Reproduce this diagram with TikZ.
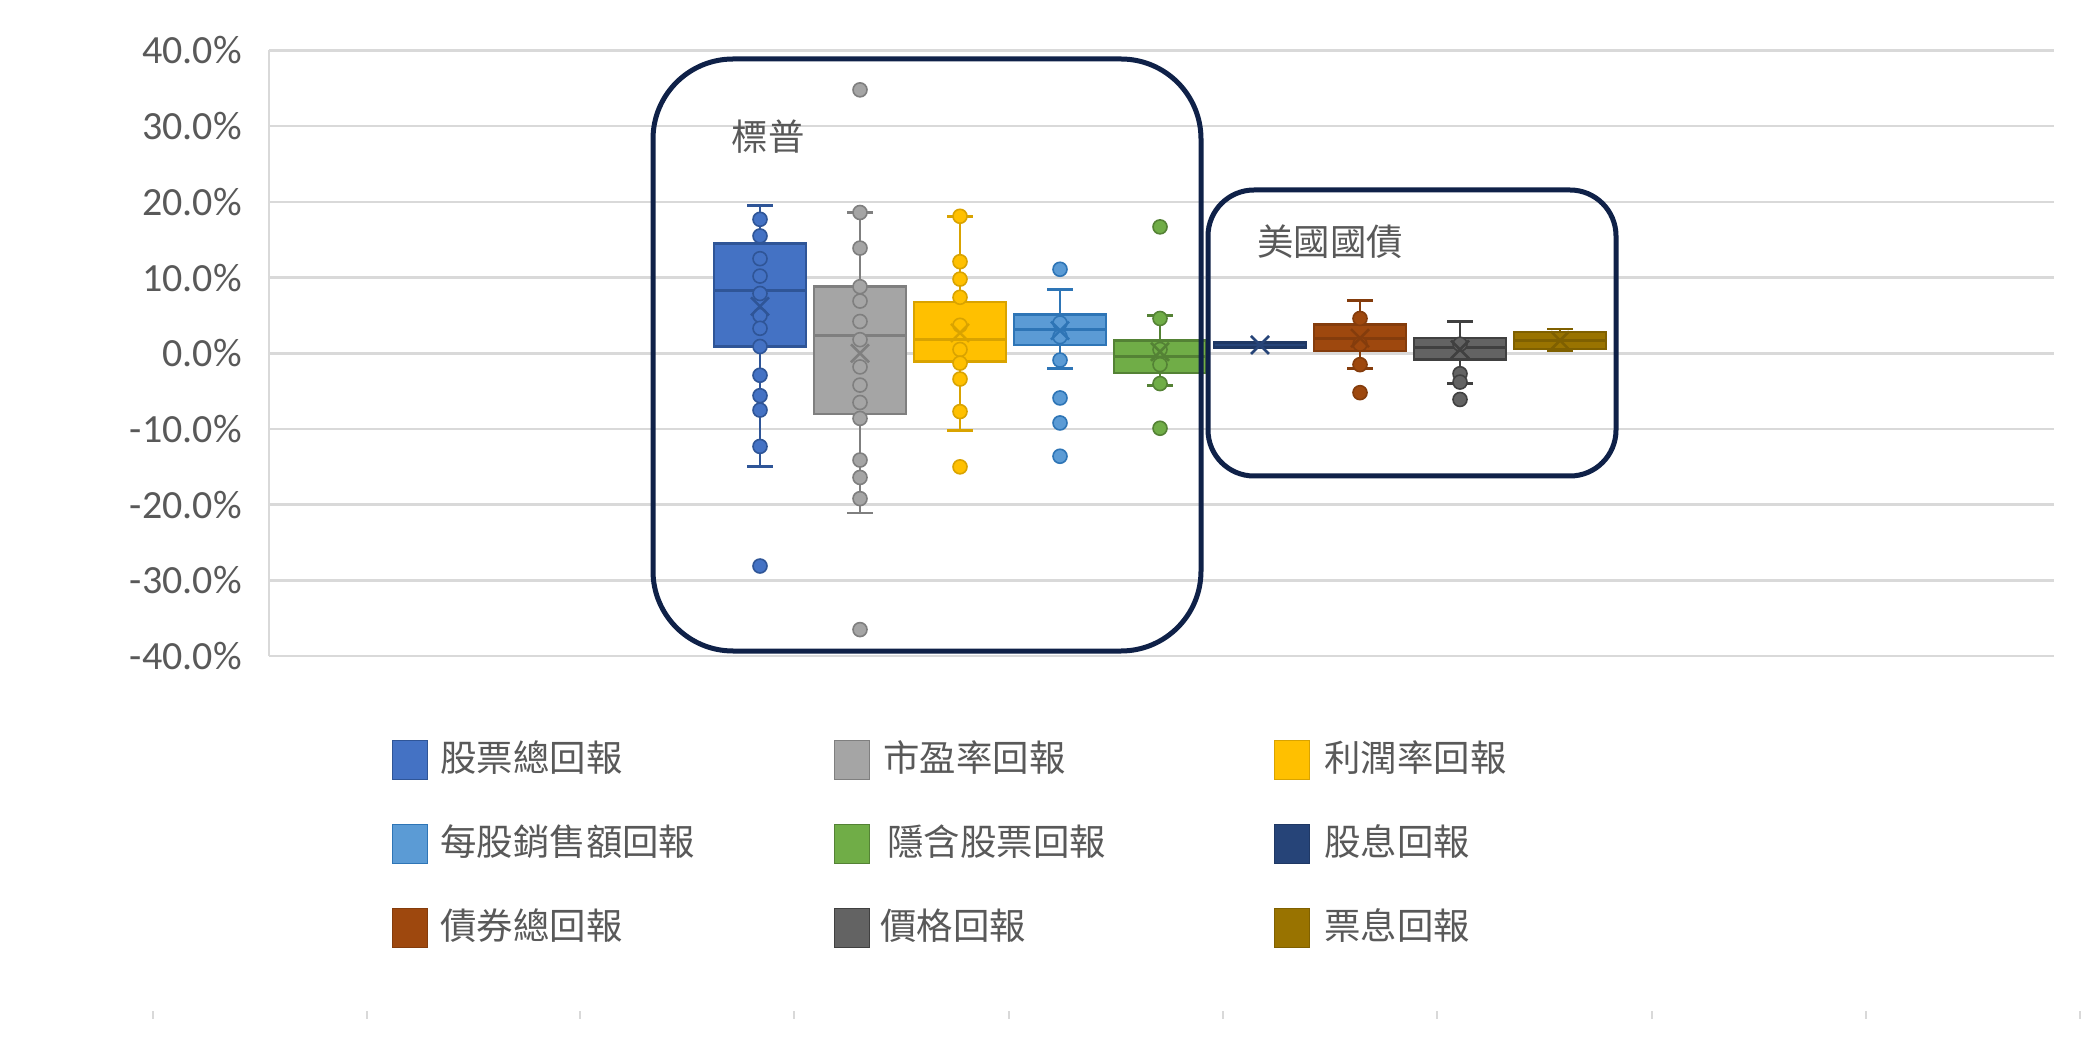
\documentclass[tikz,border=0pt]{standalone}
\usepackage{fontspec}
\setmainfont{Carlito}
\newfontfamily\cjk{Noto Sans CJK TC}
\definecolor{cBlue}{HTML}{4472C4}\definecolor{eBlue}{HTML}{2F5597}
\definecolor{cGray}{HTML}{A5A5A5}\definecolor{eGray}{HTML}{7F7F7F}
\definecolor{cYel}{HTML}{FFC000}\definecolor{eYel}{HTML}{D9A300}
\definecolor{cLBlue}{HTML}{5B9BD5}\definecolor{eLBlue}{HTML}{2E75B6}
\definecolor{cGreen}{HTML}{70AD47}\definecolor{eGreen}{HTML}{548235}
\definecolor{cNavy}{HTML}{264478}\definecolor{eNavy}{HTML}{1F3864}
\definecolor{cBrown}{HTML}{9E480E}\definecolor{eBrown}{HTML}{843C0C}
\definecolor{cDGray}{HTML}{636363}\definecolor{eDGray}{HTML}{404040}
\definecolor{cOlive}{HTML}{997300}\definecolor{eOlive}{HTML}{7F6000}
\definecolor{gridc}{HTML}{D9D9D9}
\definecolor{txtc}{HTML}{595959}
\definecolor{framec}{HTML}{0F2148}
\newcommand{\bxplot}[8]{%
  \draw[whisk, draw=#3] (#1,{Y(#4)}) -- (#1,{Y(#5)}) (#1,{Y(#7)}) -- (#1,{Y(#8)});
  \draw[whisk, draw=#3] (#1-13,{Y(#4)}) -- (#1+13,{Y(#4)}) (#1-13,{Y(#8)}) -- (#1+13,{Y(#8)});
  \filldraw[boxst, fill=#2, draw=#3] (#1-46,{Y(#5)}) rectangle (#1+46,{Y(#7)});
  \draw[whisk, draw=#3] (#1-46,{Y(#6)}) -- (#1+46,{Y(#6)});
}
\newcommand{\bxpts}[4]{%
  \foreach \v in {#4} \filldraw[fill=#2, draw=#3, line width=0.8pt] (#1,{Y(\v)}) circle[radius=3.5pt];
}
\newcommand{\bxmean}[3]{%
  \draw[draw=#2, line width=1.3pt] (#1-9,{Y(#3)-9}) -- (#1+9,{Y(#3)+9}) (#1-9,{Y(#3)+9}) -- (#1+9,{Y(#3)-9});
}
\tikzset{
  whisk/.style={line width=1.4pt},
  boxst/.style={line width=1.2pt},
  gridl/.style={draw=gridc, line width=1.3pt},
  axl/.style={anchor=east, text=txtc, font=\fontsize{20}{22}\selectfont, inner sep=0pt},
  lbl/.style={text=txtc, font=\cjk\fontsize{18.2}{20}\selectfont, inner sep=0pt},
  legtxt/.style={anchor=west, text=txtc, font=\cjk\fontsize{18.2}{20}\selectfont, inner sep=0pt},
  legsq/.style={minimum width=17.5pt, minimum height=19.5pt, inner sep=0pt, line width=0.9pt},
  frame/.style={draw=framec, line width=2.5pt},
  tickl/.style={draw=gridc, line width=0.8pt}
}
\begin{document}
\begin{tikzpicture}[x=0.5pt, y=-0.5pt, declare function={Y(\v)=353.3-7.57*\v;}]
\fill[white] (0,0) rectangle (2082,1047);
\useasboundingbox (0,0) rectangle (2082,1047);
% grid and axis labels
\foreach \g/\t in {40/40.0\%,30/30.0\%,20/20.0\%,10/10.0\%,0/0.0\%,-10/-10.0\%,-20/-20.0\%,-30/-30.0\%,-40/-40.0\%}{
  \draw[gridl] (269,{Y(\g)}) -- (2054,{Y(\g)});
  \node[axl] (ax\g) at (242,{Y(\g)}) {\t};
}
\draw[gridl] (269,{Y(40)}) -- (269,{Y(-40)});
% bottom ticks
\foreach \tx in {153,367,580,794,1009,1223,1437,1652,1866,2080}
  \draw[tickl] (\tx,1011) -- (\tx,1019);
% box plots
\bxplot{760}{cBlue}{eBlue}{-15.0}{0.9}{8.3}{14.5}{19.5}
\bxpts{760}{cBlue}{eBlue}{17.7,15.5,12.5,10.2,7.9,5.0,3.3,0.9,-2.9,-5.6,-7.5,-12.3,-28.1}
\bxmean{760}{eBlue}{6.2}
\bxplot{860}{cGray}{eGray}{-21.1}{-8.0}{2.3}{8.8}{18.6}
\bxpts{860}{cGray}{eGray}{34.8,18.6,13.9,8.8,6.9,4.2,1.8,-1.8,-4.2,-6.5,-8.6,-14.1,-16.4,-19.2,-36.5}
\bxmean{860}{eGray}{0.0}
\bxplot{960}{cYel}{eYel}{-10.2}{-1.1}{1.8}{6.8}{18.1}
\bxpts{960}{cYel}{eYel}{18.1,12.1,9.8,7.4,3.7,0.5,-1.3,-3.4,-7.7,-15.0}
\bxmean{960}{eYel}{2.7}
\bxplot{1060}{cLBlue}{eLBlue}{-2.0}{1.1}{3.1}{5.1}{8.4}
\bxpts{1060}{cLBlue}{eLBlue}{11.1,4.0,2.2,-0.9,-5.9,-9.2,-13.6}
\bxmean{1060}{eLBlue}{3.0}
\bxplot{1160}{cGreen}{eGreen}{-4.3}{-2.6}{-0.4}{1.7}{5.0}
\bxpts{1160}{cGreen}{eGreen}{16.7,4.6,0.5,-1.5,-4.0,-9.9}
\bxmean{1160}{eGreen}{0.2}
\filldraw[boxst, fill=cNavy, draw=eNavy] (1214,{Y(1.45)}) rectangle (1306,{Y(0.75)});
\bxmean{1260}{cNavy}{1.1}
\bxplot{1360}{cBrown}{eBrown}{-2.0}{0.3}{2.0}{3.8}{7.0}
\bxpts{1360}{cBrown}{eBrown}{4.6,1.2,-1.5,-5.2}
\bxmean{1360}{eBrown}{2.0}
\bxplot{1460}{cDGray}{eDGray}{-4.0}{-0.8}{0.8}{2.0}{4.2}
\bxpts{1460}{cDGray}{eDGray}{1.2,-2.7,-3.8,-6.1}
\bxmean{1460}{eDGray}{0.5}
\bxplot{1560}{cOlive}{eOlive}{0.4}{0.55}{1.7}{2.85}{3.2}
\bxmean{1560}{eOlive}{1.7}
% group frames
\draw[frame, rounded corners=40pt] (653,59) rectangle (1201,651);
\draw[frame, rounded corners=23pt] (1208,190) rectangle (1616,476);
\node[lbl] (sp) at (768,137) {標普};
\node[lbl] (ust) at (1330,242) {美國國債};
% legend
\node[legsq, fill=cBlue, draw=eBlue] (l1) at (410,760) {};
\node[legtxt] (t1) at (440,758) {股票總回報};
\node[legsq, fill=cGray, draw=eGray] (l2) at (852,760) {};
\node[legtxt] (t2) at (883,758) {市盈率回報};
\node[legsq, fill=cYel, draw=eYel] (l3) at (1292,760) {};
\node[legtxt] (t3) at (1324,758) {利潤率回報};
\node[legsq, fill=cLBlue, draw=eLBlue] (l4) at (410,844) {};
\node[legtxt] (t4) at (440,842) {每股銷售額回報};
\node[legsq, fill=cGreen, draw=eGreen] (l5) at (852,844) {};
\node[legtxt] (t5) at (887,842) {隱含股票回報};
\node[legsq, fill=cNavy, draw=eNavy] (l6) at (1292,844) {};
\node[legtxt] (t6) at (1324,842) {股息回報};
\node[legsq, fill=cBrown, draw=eBrown] (l7) at (410,928) {};
\node[legtxt] (t7) at (440,926) {債券總回報};
\node[legsq, fill=cDGray, draw=eDGray] (l8) at (852,928) {};
\node[legtxt] (t8) at (880,926) {價格回報};
\node[legsq, fill=cOlive, draw=eOlive] (l9) at (1292,928) {};
\node[legtxt] (t9) at (1324,926) {票息回報};
\end{tikzpicture}
\end{document}
